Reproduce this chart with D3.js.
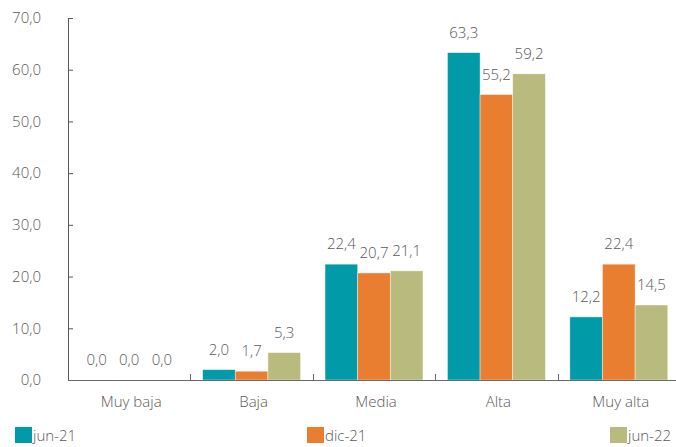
<!DOCTYPE html>
<html>
<head>
<meta charset="utf-8">
<script src="https://cdn.jsdelivr.net/npm/d3@7"></script>
<style>
  html, body { margin: 0; padding: 0; background: #fff; }
  svg { display: block; }
  text { font-family: "Open Sans", "Noto Sans", sans-serif; font-weight: 300; }
</style>
</head>
<body>
<svg id="chart" width="676" height="447"></svg>
<script>
const categories = ["Muy baja", "Baja", "Media", "Alta", "Muy alta"];
const seriesNames = ["jun-21", "dic-21", "jun-22"];
const jun21 = [0.0, 2.0, 22.4, 63.3, 12.2];
const dic21 = [0.0, 1.7, 20.7, 55.2, 22.4];
const jun22 = [0.0, 5.3, 21.1, 59.2, 14.5];
const yTicks = [0, 10, 20, 30, 40, 50, 60, 70];
const colors = ["#009AA8", "#E97E31", "#B8BA7E"];

const seriesValues = [jun21, dic21, jun22];
const fmt = v => v.toFixed(1).replace(".", ",");
const textColor = "#595959";

const svg = d3.select("#chart");
const y = d3.scaleLinear().domain([0, 70]).range([380, 18]);
const x = d3.scaleBand().domain(categories).range([68, 680]).padding(0);
const bw = x.bandwidth();
const x1 = d3.scaleBand().domain(seriesNames).range([bw * 0.1, bw * 0.9]).padding(0);

// Y axis
const yAxis = svg.append("g").attr("transform", "translate(68,0)")
  .call(d3.axisLeft(y).tickValues(yTicks).tickFormat(fmt).tickSize(-5).tickPadding(27));
yAxis.select(".domain").attr("stroke", "#595959").attr("d", `M0.5,${y(70)}V${y(0)}`);
yAxis.selectAll(".tick line").attr("stroke", "#595959");
yAxis.selectAll(".tick text").attr("fill", textColor).style("font-size", "15px")
  .attr("font-family", null);

// Bars
const groups = svg.append("g").selectAll("g").data(categories).join("g")
  .attr("transform", d => `translate(${x(d)},0)`);
groups.selectAll("rect").data((c, i) => seriesNames.map((s, j) => ({ s, v: seriesValues[j][i], j })))
  .join("rect")
  .attr("x", d => x1(d.s))
  .attr("width", x1.bandwidth())
  .attr("y", d => y(d.v))
  .attr("height", d => y(0) - y(d.v))
  .attr("fill", d => colors[d.j])
  .attr("stroke", "rgba(255,255,255,0.6)")
  .attr("stroke-width", 0.7);

groups.selectAll("text").data((c, i) => seriesNames.map((s, j) => ({ s, v: seriesValues[j][i], j })))
  .join("text")
  .attr("x", d => x1(d.s) + x1.bandwidth() / 2)
  .attr("y", d => y(d.v) - 15)
  .attr("text-anchor", "middle")
  .attr("fill", textColor)
  .style("font-size", "15px")
  .text(d => fmt(d.v));

// X axis
const xAxis = svg.append("g").attr("transform", `translate(0,${y(0)})`);
xAxis.append("line").attr("x1", 68).attr("x2", 676).attr("y1", 0.5).attr("y2", 0.5)
  .attr("stroke", "#6a6a6a");
xAxis.selectAll("line.tk").data(categories.slice(1)).join("line").attr("class", "tk")
  .attr("x1", d => Math.round(x(d)) + 0.5).attr("x2", d => Math.round(x(d)) + 0.5)
  .attr("y1", 0).attr("y2", -6).attr("stroke", "#6a6a6a");
xAxis.selectAll("text").data(categories).join("text")
  .attr("x", d => x(d) + bw / 2 + 2)
  .attr("y", 27)
  .attr("text-anchor", "middle")
  .attr("fill", textColor)
  .style("font-size", "15px")
  .text(d => d);

// Legend
const legendX = [15, 307, 610];
const legend = svg.append("g").selectAll("g").data(seriesNames).join("g")
  .attr("transform", (d, i) => `translate(${legendX[i]},427)`);
legend.append("rect").attr("width", 17).attr("height", 16).attr("fill", (d, i) => colors[i]);
legend.append("text").attr("x", 18).attr("y", 14)
  .attr("fill", textColor).style("font-size", "15px").text(d => d);
</script>
</body>
</html>
